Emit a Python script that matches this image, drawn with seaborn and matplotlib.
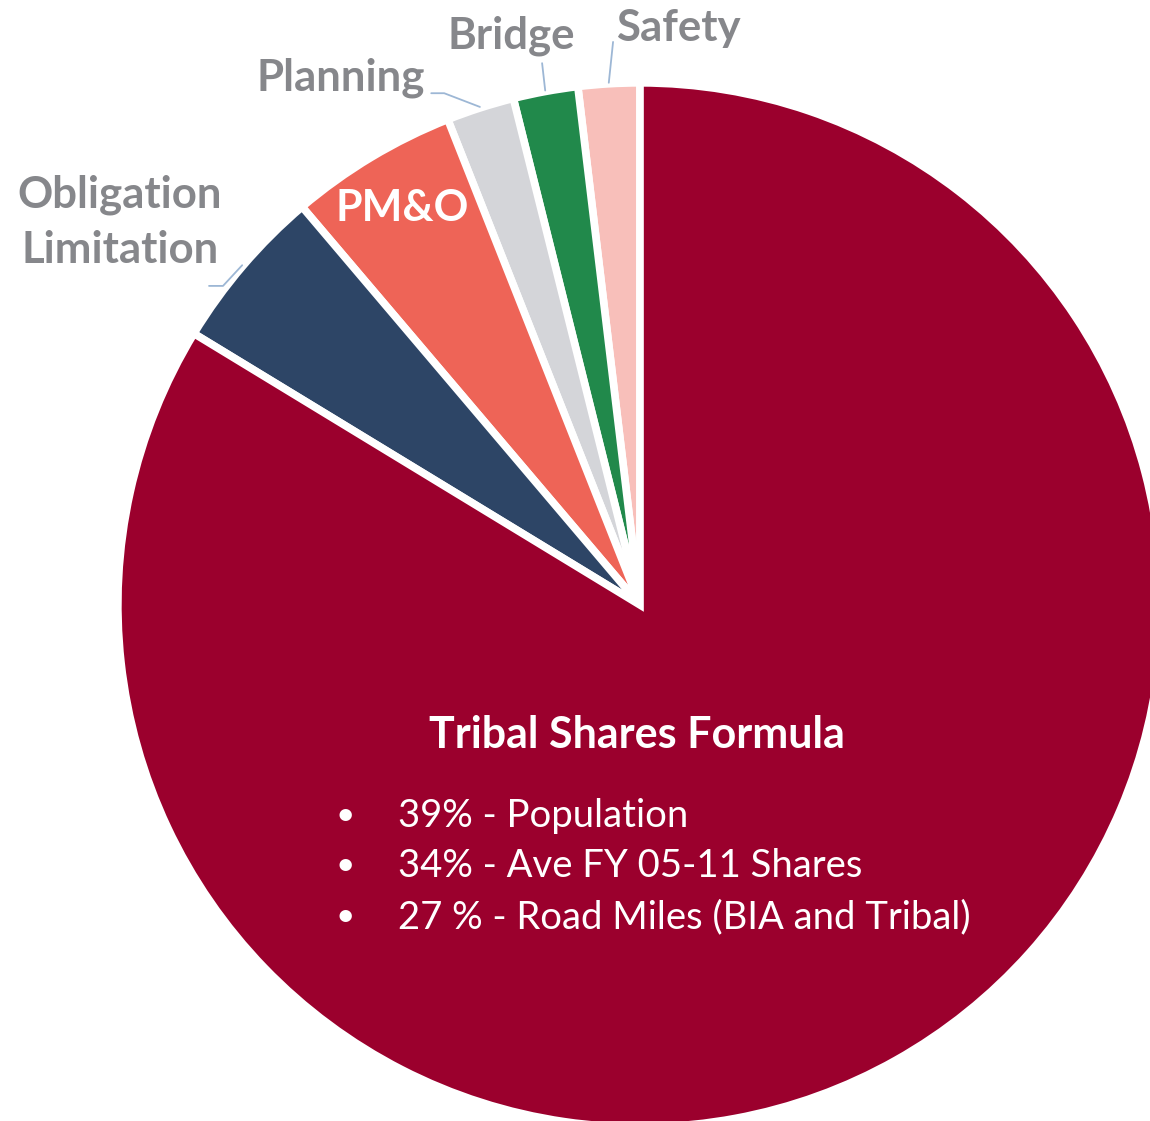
import numpy as np
import seaborn as sns
import matplotlib.pyplot as plt

# Funding split (counter-clockwise from 12 o'clock)
categories = ["Safety", "Bridge", "Planning", "PM&O", "Obligation\nLimitation", "Tribal Shares Formula"]
shares = [1.9, 2.0, 2.1, 5.2, 5.1, 83.7]
colors = ["#F8BFBA", "#21894B", "#D4D5D9", "#EE6457", "#2D4566", "#9B002D"]

formula_items = ["39% - Population", "34% - Ave FY 05-11 Shares", "27 % - Road Miles (BIA and Tribal)"]

sns.set_theme(style="white")
plt.rcParams['font.family'] = ['Lato', 'DejaVu Sans']

label_grey = "#86878B"
leader_blue = "#9DB7D5"

fig = plt.figure(figsize=(11.5, 11.21), dpi=100)
ax = fig.add_axes([0, 0, 1, 1])

wedges, _ = ax.pie(shares, colors=colors, startangle=90, counterclock=True, radius=1.008,
                   wedgeprops=dict(edgecolor="white", linewidth=5.5))

# outside labels for the small slices: (text position, leader end points)
outside = {
    "Safety": ((0.075, 1.114), [(-0.052, 1.087)]),
    "Bridge": ((-0.249, 1.098), [(-0.189, 1.046)]),
    "Planning": ((-0.577, 1.017), [(-0.378, 0.988), (-0.403, 0.988)]),
    "Obligation\nLimitation": ((-1.004, 0.739), [(-0.805, 0.616), (-0.832, 0.616)]),
}

for w, name in zip(wedges, categories):
    mid = np.deg2rad((w.theta1 + w.theta2) / 2)
    if name in outside:
        (tx, ty), pts = outside[name]
        rim = (1.01 * np.cos(mid), 1.01 * np.sin(mid))
        xs = [rim[0]] + [p[0] for p in pts]
        ys = [rim[1]] + [p[1] for p in pts]
        ax.plot(xs, ys, color=leader_blue, lw=1.3)
        ax.text(tx, ty, name, ha="center", va="center", color=label_grey,
                fontsize=31.5, fontweight="bold", linespacing=1.45)

# PM&O label inside its slice
ax.text(-0.459, 0.766, "PM&O", ha="center", va="center", color="white",
        fontsize=31, fontweight="bold")

# Tribal Shares Formula block
ax.text(-0.005, -0.251, categories[-1], ha="center", va="center", color="white",
        fontsize=31, fontweight="bold")
for i, item in enumerate(formula_items):
    y = -0.407 - i * 0.0975
    ax.text(-0.569, y, "\u2022", ha="center", va="center", color="white", fontsize=24)
    ax.text(-0.467, y, item, ha="left", va="center", color="white", fontsize=27.5)

ax.set_xlim(-640 / 518, 510 / 518)
ax.set_ylim(-516 / 518, 605 / 518)
ax.axis("off")

fig.savefig("out.png", dpi=100)
